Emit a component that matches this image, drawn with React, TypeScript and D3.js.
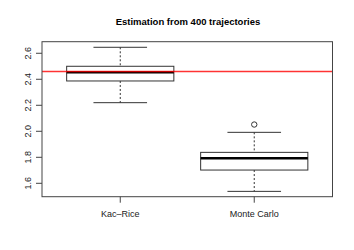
import * as d3 from 'd3';

const categories = ['Kac–Rice', 'Monte Carlo'];
const lowerWhisker = [2.22, 1.538];
const q1 = [2.387, 1.702];
const medians = [2.454, 1.792];
const q3 = [2.5, 1.838];
const upperWhisker = [2.646, 1.992];
const outliers = [[], [2.052]];
const referenceValue = 2.459;
const yTicks = [1.6, 1.8, 2.0, 2.2, 2.4, 2.6];

export default function App() {
  const width = 354;
  const height = 250;
  const left = 42;
  const right = 332.5;
  const top = 41.7;
  const bottom = 196.7;

  const x = d3.scalePoint<string>().domain(categories).range([left, right]).padding(0.584);
  const step = x.step();
  const y = d3.scaleLinear().domain([1.497, 2.689]).range([bottom, top]);

  const boxW = step * 0.8;
  const capW = boxW / 2;
  const font = '"Liberation Sans", Arial, sans-serif';

  return (
    <svg
      width={width}
      height={height}
      style={{ position: 'absolute', left: 0, top: 0, background: '#fff' }}
      fontFamily={font}
    >
      <text x={188} y={25} textAnchor="middle" fontSize={9.5} fontWeight="bold">
        Estimation from 400 trajectories
      </text>

      {categories.map((c, i) => {
        const cx = x(c)!;
        return (
          <g key={c} stroke="#333" fill="none">
            {/* whiskers (dashed) */}
            <line x1={cx} x2={cx} y1={y(upperWhisker[i])} y2={y(q3[i])} strokeDasharray="2 2" />
            <line x1={cx} x2={cx} y1={y(q1[i])} y2={y(lowerWhisker[i])} strokeDasharray="2 2" />
            <line x1={cx - capW / 2} x2={cx + capW / 2} y1={y(upperWhisker[i])} y2={y(upperWhisker[i])} />
            <line x1={cx - capW / 2} x2={cx + capW / 2} y1={y(lowerWhisker[i])} y2={y(lowerWhisker[i])} />
            <rect x={cx - boxW / 2} y={y(q3[i])} width={boxW} height={y(q1[i]) - y(q3[i])} />
            <line
              x1={cx - boxW / 2}
              x2={cx + boxW / 2}
              y1={y(medians[i])}
              y2={y(medians[i])}
              stroke="#000"
              strokeWidth={2.5}
            />
            {outliers[i].map((o, j) => (
              <circle key={j} cx={cx} cy={y(o)} r={2.7} />
            ))}
          </g>
        );
      })}

      <line
        x1={left}
        x2={right}
        y1={y(referenceValue)}
        y2={y(referenceValue)}
        stroke="#ff0000"
        strokeOpacity={0.8}
        strokeWidth={1.5}
      />

      {/* plot frame */}
      <rect x={left} y={top} width={right - left} height={bottom - top} fill="none" stroke="#444" />

      {/* y axis */}
      {yTicks.map((t) => (
        <g key={t}>
          <line x1={left - 6} x2={left} y1={y(t)} y2={y(t)} stroke="#444" />
          <text
            transform={`translate(${left - 11},${y(t)}) rotate(-90)`}
            textAnchor="middle"
            fontSize={9}
            fill="#222"
          >
            {t.toFixed(1)}
          </text>
        </g>
      ))}

      {/* x axis */}
      {categories.map((c) => (
        <g key={c}>
          <line x1={x(c)!} x2={x(c)!} y1={bottom} y2={bottom + 6} stroke="#444" />
          <text x={x(c)!} y={216.5} textAnchor="middle" fontSize={9} fill="#222">
            {c}
          </text>
        </g>
      ))}
    </svg>
  );
}
